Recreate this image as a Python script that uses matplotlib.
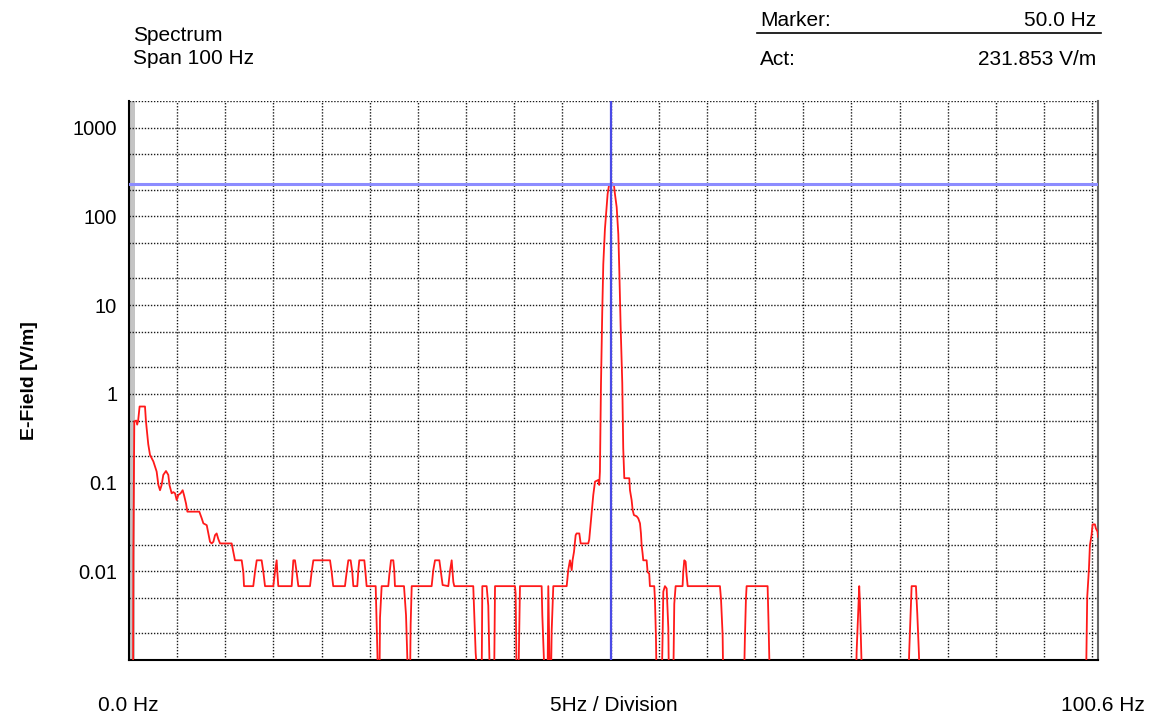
import matplotlib
matplotlib.use("Agg")
import matplotlib.pyplot as plt
from matplotlib.ticker import FixedLocator, NullFormatter

# ---------------- data ----------------
freq_hz = [0.0, 0.42, 0.45, 0.55, 0.75, 0.85, 0.95, 1.1, 1.66, 1.76, 2.0, 2.18, 2.53, 2.87, 3.05,
           3.22, 3.39, 3.56, 3.84, 4.08, 4.2, 4.43, 4.6, 4.78, 4.95, 5.12, 5.36, 5.57, 5.71, 5.92,
           6.06, 7.3, 7.55, 7.72, 8.07, 8.24, 8.41, 8.58, 8.76, 8.93, 9.1, 9.27, 9.45, 10.66, 10.83,
           11.0, 11.7, 11.87, 11.94, 12.9, 13.08, 13.26, 13.77, 13.95, 14.12, 14.98, 15.15, 15.33,
           15.4, 15.5, 16.89, 17.06, 17.23, 17.4, 17.58, 18.79, 18.96, 19.14, 20.87, 21.04, 21.2,
           22.42, 22.6, 22.77, 23.01, 23.18, 23.29, 23.7, 23.81, 23.91, 24.43, 24.53, 24.67, 25.61,
           25.71, 25.88, 26.0, 26.06, 26.23, 26.92, 27.02, 27.2, 27.44, 27.54, 27.61, 28.55, 28.76,
           28.89, 29.0, 29.17, 29.24, 29.35, 31.42, 31.59, 31.77, 32.22, 32.36, 32.56, 33.15, 33.32,
           33.5, 33.67, 33.77, 35.74, 35.85, 35.99, 36.26, 36.61, 36.68, 37.13, 37.3, 37.48, 37.9,
           38.0, 40.07, 40.14, 40.25, 40.42, 40.59, 42.84, 42.91, 43.18, 43.45, 43.53, 43.7, 43.8,
           43.88, 44.05, 45.44, 45.6, 45.78, 45.96, 46.05, 46.2, 46.37, 46.47, 46.75, 46.89, 47.68,
           47.78, 48.0, 48.2, 48.38, 48.72, 48.82, 48.89, 49.0, 49.13, 49.24, 49.41, 49.59, 49.69,
           49.83, 50.0, 50.21, 50.35, 50.45, 50.63, 50.8, 50.9, 51.04, 51.21, 51.31, 51.42, 51.94,
           52.01, 52.18, 52.29, 52.42, 52.7, 52.87, 53.05, 53.15, 53.22, 53.32, 53.39, 53.74, 53.84,
           54.01, 54.08, 54.53, 54.6, 54.71, 54.78, 55.3, 55.4, 55.47, 55.64, 55.82, 55.99, 56.06,
           56.5, 56.61, 56.75, 57.47, 57.54, 57.65, 57.79, 57.89, 58.0, 61.35, 61.46, 61.63, 61.7,
           63.84, 63.94, 64.05, 64.12, 66.3, 66.4, 66.54, 75.47, 75.54, 75.71, 75.81, 75.88, 75.99,
           76.12, 80.9, 81.0, 81.15, 81.25, 81.7, 81.84, 82.01, 82.11, 99.35, 99.42, 99.48, 99.66,
           99.76, 99.93, 100.04, 100.28, 100.38, 100.56, 100.6]
efield_vm = [0.0005, 0.0005, 0.015, 0.49, 0.5, 0.45, 0.5, 0.72, 0.72, 0.49, 0.27, 0.205, 0.173, 0.133, 0.094,
             0.082, 0.094, 0.122, 0.135, 0.122, 0.094, 0.0757, 0.078, 0.0757, 0.0636, 0.0724, 0.0757, 0.082, 0.0724, 0.058,
             0.047, 0.047, 0.0395, 0.0347, 0.0331, 0.0267, 0.0215, 0.0206, 0.0215, 0.0255, 0.0267, 0.0231, 0.0206, 0.0206, 0.0166,
             0.0133, 0.0133, 0.0098, 0.0068, 0.0068, 0.0098, 0.0133, 0.0133, 0.0098, 0.0068, 0.0068, 0.0098, 0.0133,
             0.0098, 0.0068, 0.0068, 0.0133, 0.0133, 0.0098, 0.0068, 0.0068, 0.0098, 0.0133, 0.0133, 0.0098, 0.0068,
             0.0068, 0.0098, 0.0133, 0.0133, 0.0098, 0.0068, 0.0068, 0.0103, 0.0133, 0.0133, 0.0103, 0.0068, 0.0068,
             0.0025, 0.0005, 0.0005, 0.0030, 0.0068, 0.0068, 0.0090, 0.0133, 0.0133, 0.0103, 0.0068, 0.0068, 0.0032,
             0.0011, 0.0005, 0.0005, 0.0025, 0.0068, 0.0068, 0.0103, 0.0133, 0.0133, 0.0103, 0.0070, 0.0068, 0.0100,
             0.0133, 0.0076, 0.0068, 0.0068, 0.0032, 0.0012, 0.0005, 0.0005, 0.0068, 0.0068, 0.0041, 0.0005, 0.0005,
             0.0068, 0.0068, 0.0056, 0.0005, 0.0005, 0.0068, 0.0068, 0.0032, 0.0005, 0.0005, 0.0068, 0.0005, 0.0005,
             0.0021, 0.0068, 0.0068, 0.0103, 0.0133, 0.0103, 0.0133, 0.0166, 0.0255, 0.0267, 0.0267, 0.0206, 0.0206,
             0.0228, 0.042, 0.0724, 0.1025, 0.107, 0.094, 0.133, 1.27, 8.2, 28.9, 72, 132, 179,
             223, 236, 236, 223, 179, 127, 63, 25.4, 5.8, 1.33, 0.244, 0.112, 0.112,
             0.082, 0.0636, 0.049, 0.043, 0.0417, 0.0395, 0.0347, 0.0267, 0.0197, 0.0159, 0.0133, 0.0133, 0.0098,
             0.0094, 0.0068, 0.0068, 0.0049, 0.00174, 0.0005, 0.0005, 0.0019, 0.0059, 0.0068, 0.0064, 0.0023, 0.0005,
             0.0005, 0.0043, 0.0068, 0.0068, 0.0098, 0.0133, 0.0128, 0.0090, 0.0068, 0.0068, 0.0049, 0.0019, 0.0005,
             0.0005, 0.00174, 0.0049, 0.0068, 0.0068, 0.0025, 0.0005, 0.0005, 0.00123, 0.0035, 0.0068, 0.0045, 0.0016,
             0.0005, 0.0005, 0.00123, 0.0035, 0.0068, 0.0068, 0.0033, 0.00117, 0.0005, 0.0005, 0.0018, 0.0051, 0.0107,
             0.0197, 0.0255, 0.0338, 0.0338, 0.0304, 0.0279, 0.0245]

marker_hz = 50.0
marker_value = 231.853
span_hz = 100.6
division_hz = 5
y_ticks = [1000, 100, 10, 1, 0.1, 0.01]
y_tick_labels = ["1000", "100", "10", "1", "0.1", "0.01"]
y_minor = [2e-3, 5e-3, 2e-2, 5e-2, 2e-1, 5e-1, 2, 5, 20, 50, 200, 500]

# ---------------- figure ----------------
plt.rcParams['font.family'] = ['Liberation Sans', 'DejaVu Sans']
fig = plt.figure(figsize=(11.54, 7.2), dpi=100)
ax = fig.add_axes([129 / 1154, 1 - 660 / 720, 969 / 1154, 559 / 720])

ax.set_yscale('log')
ax.set_xlim(0, span_hz)
ax.set_ylim(0.001, 2000)

# grid
grid_kw = dict(color='#1a1a1a', linewidth=1.0, linestyle=(0, (1, 1.2)), zorder=1)
for gx in range(division_hz, 101, division_hz):
    ax.axvline(gx, **grid_kw)
for gy in y_ticks + y_minor + [2000]:
    ax.axhline(gy, **grid_kw)

# grey strip at left edge
ax.axvspan(0, 0.6, color='#c4c4c4', zorder=0.5, lw=0)

# spectrum
ax.plot(freq_hz, efield_vm, color='#ff1a1a', linewidth=1.3, zorder=3)

# marker lines
ax.axhline(marker_value, color='#8c8cff', linewidth=2.2, zorder=4)
ax.axvline(marker_hz, color='#4a4ae6', linewidth=1.6, zorder=4)

# ticks
ax.yaxis.set_major_locator(FixedLocator(y_ticks))
ax.yaxis.set_minor_locator(FixedLocator(y_minor))
ax.yaxis.set_minor_formatter(NullFormatter())
ax.set_yticklabels(y_tick_labels)
ax.tick_params(axis='y', which='both', length=0, pad=8.5, labelsize=14.5)
ax.set_xticks([])

ax.spines['top'].set_visible(False)
ax.spines['left'].set_linewidth(1.5)
ax.spines['bottom'].set_linewidth(1.5)
ax.spines['right'].set_color('#666666')
ax.spines['right'].set_linewidth(1.5)

ax.set_ylabel('E-Field [V/m]', fontsize=14, fontweight='bold')
ax.yaxis.set_label_coords(-91 / 969, 0.5)

# header texts
def fy(px):
    return 1 - px / 720

fig.text(133 / 1154, fy(41), 'Spectrum', fontsize=15, va='baseline', ha='left')
fig.text(133 / 1154, fy(64), 'Span 100 Hz', fontsize=15, va='baseline', ha='left')
fig.text(760 / 1154, fy(25.5), 'Marker:', fontsize=15, va='baseline', ha='left')
fig.text(1096 / 1154, fy(25.5), f'{marker_hz:.1f} Hz', fontsize=15, va='baseline', ha='right')
fig.text(760 / 1154, fy(65), 'Act:', fontsize=15, va='baseline', ha='left')
fig.text(1096 / 1154, fy(65), f'{marker_value:.3f} V/m', fontsize=15, va='baseline', ha='right')
fig.add_artist(plt.Line2D([757 / 1154, 1101 / 1154], [fy(33), fy(33)], color='black', linewidth=1.2))

# footer texts
fig.text(128 / 1154, fy(711), '0.0 Hz', fontsize=15, va='baseline', ha='center')
fig.text(614 / 1154, fy(711), f'{division_hz}Hz / Division', fontsize=15, va='baseline', ha='center')
fig.text(1103 / 1154, fy(711), f'{span_hz} Hz', fontsize=15, va='baseline', ha='center')

fig.savefig('out.png', dpi=100)
